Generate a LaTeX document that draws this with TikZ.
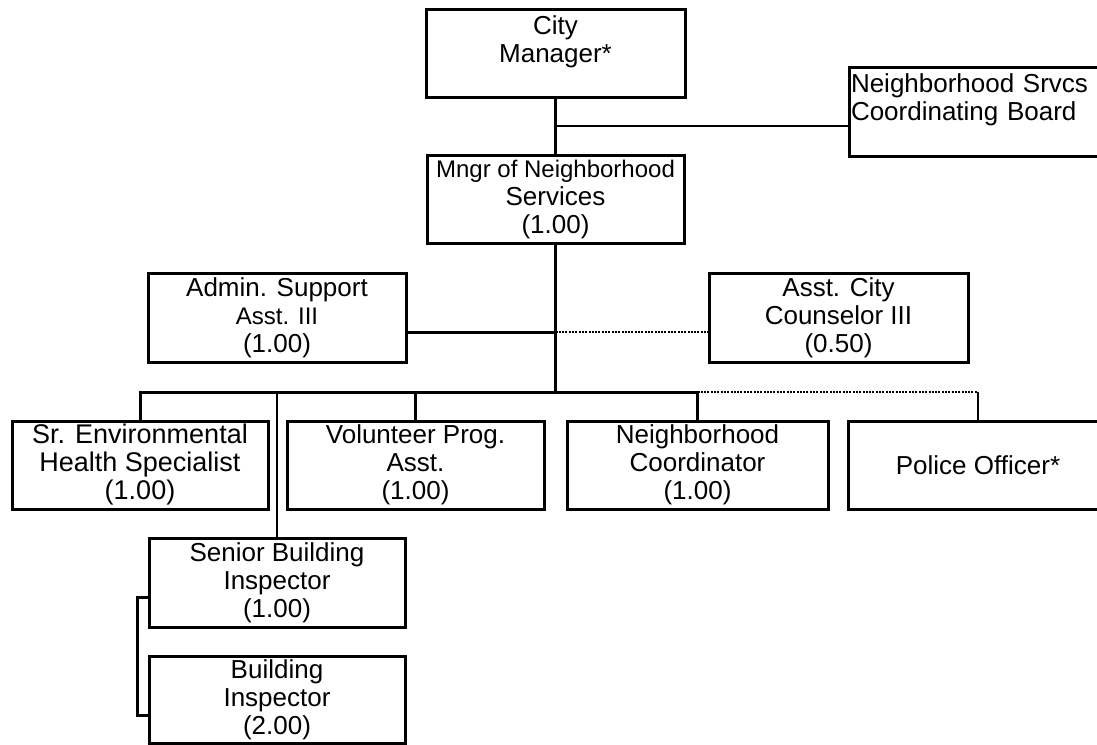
\documentclass[tikz,border=0pt]{standalone}
\usepackage{fontspec}
\setmainfont{Liberation Sans}
\newcommand\boxfont{\fontsize{26}{28}\selectfont}
\newcommand\bigboxfont{\fontsize{27}{28}\selectfont}
\newcommand\smallboxfont{\fontsize{24}{28}\selectfont}
\tikzset{
  orgbox/.style={draw, line width=3pt, inner sep=0pt, align=center, font=\boxfont},
  conn/.style={line width=3pt, line join=miter},
  thinconn/.style={line width=1.2pt},
  dotconn/.style={line width=2.6pt, dash pattern=on 2pt off 1.3pt},
  midconn/.style={line width=2.4pt}
}
\begin{document}
\begin{tikzpicture}[x=1pt, y=-1pt]
\useasboundingbox[fill=white] (0,0) rectangle (1097,744);
% boxes
\node[orgbox, minimum width=259pt, minimum height=88pt] (cm) at (555.5,53) {City\\Manager*\\\mbox{}};
\node[orgbox, minimum width=258pt, minimum height=89pt, text width=254pt, align=left] (nscb) at (978,111.5) {Neighborhood Srvcs\\Coordinating Board\\\mbox{}};
\node[orgbox, minimum width=257pt, minimum height=88pt] (mngr) at (555.5,199) {{\smallboxfont Mngr of Neighborhood}\\Services\\(1.00)};
\node[orgbox, minimum width=258pt, minimum height=89pt] (admin) at (277,317.5) {Admin. Support\\{\smallboxfont Asst. III}\\(1.00)};
\node[orgbox, minimum width=259pt, minimum height=89pt] (asst) at (838.5,317.5) {Asst. City\\Counselor III\\(0.50)};
\node[orgbox, minimum width=256pt, minimum height=88pt, font=\bigboxfont] (srenv) at (140,465) {Sr. Environmental\\Health Specialist\\(1.00)};
\node[orgbox, minimum width=257pt, minimum height=88pt] (vol) at (415.5,465) {Volunteer Prog.\\Asst.\\(1.00)};
\node[orgbox, minimum width=261pt, minimum height=88pt] (nc) at (697.5,465) {Neighborhood\\Coordinator\\(1.00)};
\node[orgbox, minimum width=260pt, minimum height=88pt] (police) at (978,465) {Police Officer*};
\node[orgbox, minimum width=256pt, minimum height=89pt] (sbi) at (277,582.5) {Senior Building\\Inspector\\(1.00)};
\node[orgbox, minimum width=256pt, minimum height=87pt] (bi) at (277,699.5) {Building\\Inspector\\(2.00)};
% junction coordinates
\coordinate (j1) at (555.5,126);
\coordinate (ja) at (555.5,332);
\coordinate (bus) at (555.5,392);
% connectors
\draw[conn] (cm.south) -- (mngr.north);
\draw[thinconn] (j1) -- (j1 -| nscb.west);
\draw[conn] (mngr.south) -- (bus);
\draw[conn] (ja) -- (ja -| admin.east);
\draw[dotconn] (ja) -- (ja -| asst.west);
\draw[conn] (srenv.north) -- (srenv.north |- bus) -- (nc.north |- bus) -- (nc.north);
\draw[conn] (vol.north |- bus) -- (vol.north);
\draw[dotconn] (nc.north |- bus) -- (police.north |- bus);
\draw[thinconn] (police.north |- bus) -- (police.north);
\draw[midconn] (sbi.north |- bus) -- (sbi.north);
\draw[conn] ([yshift=-14.5pt]sbi.west) -- ++(-10,0) |- ([yshift=-15.5pt]bi.west);
\end{tikzpicture}
\end{document}
